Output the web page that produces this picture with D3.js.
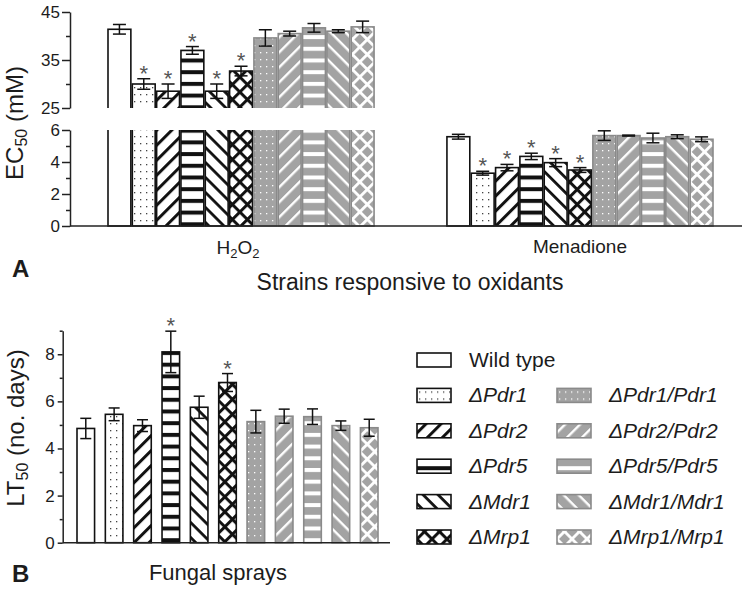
<!DOCTYPE html>
<html lang="en">
<head>
<meta charset="UTF-8">
<script src="https://d3js.org/d3.v7.min.js"></script>
<title>EC50 and LT50 of transporter mutants</title>
<style>
    body { margin: 0; background: #fff; }
    text { font-family: "Liberation Sans", Arial, sans-serif; fill: #1c1c1c; }
    .axis path, .axis line { stroke: #222; stroke-width: 1.5; }
</style>
</head>
<body>
<div id="container"></div>
<script>
// ---- data ----
const strains = ['Wild type', '\u0394Pdr1', '\u0394Pdr2', '\u0394Pdr5', '\u0394Mdr1', '\u0394Mrp1',
    '\u0394Pdr1/Pdr1', '\u0394Pdr2/Pdr2', '\u0394Pdr5/Pdr5', '\u0394Mdr1/Mdr1', '\u0394Mrp1/Mrp1'];
const oxidants = ['H2O2', 'Menadione'];

const ec50H2O2 = [41.4, 30.0, 28.5, 37.0, 28.5, 32.7, 39.6, 40.5, 41.7, 41.0, 41.9];
const ec50H2O2Err = [1.0, 1.1, 1.5, 0.8, 1.5, 1.0, 1.7, 0.5, 0.9, 0.3, 1.2];
const ec50Menadione = [5.58, 3.30, 3.65, 4.35, 3.96, 3.50, 5.65, 5.65, 5.50, 5.58, 5.42];
const ec50MenadioneErr = [0.15, 0.12, 0.20, 0.20, 0.25, 0.15, 0.30, 0.03, 0.30, 0.12, 0.15];
const ec50Signif = [false, true, true, true, true, true, false, false, false, false, false];

const lt50 = [4.85, 5.45, 4.97, 8.10, 5.75, 6.80, 5.14, 5.37, 5.35, 4.97, 4.88];
const lt50Err = [0.43, 0.27, 0.25, 0.88, 0.47, 0.38, 0.48, 0.30, 0.33, 0.20, 0.36];
const lt50Signif = [false, false, false, true, false, true, false, false, false, false, false];

const ecUpperTicks = [25, 35, 45];
const ecUpperMinor = [30, 40];
const ecLowerTicks = [0, 2, 4, 6];
const ecLowerMinor = [1, 3, 5];
const ltTicks = [0, 2, 4, 6, 8];
const ltMinor = [1, 3, 5, 7, 9];

const width = 747;
const height = 592;
const gray = '#a3a3a3';
const grayLine = '#8a8a8a';

const svg = d3.select('#container')
    .append('svg')
    .attr('width', width)
    .attr('height', height);

svg.append('rect').attr('width', width).attr('height', height).attr('fill', '#fff');

// ---- patterns ----
const defs = svg.append('defs');

function stripes(id, bg, fg, size, thick, angle) {
    const p = defs.append('pattern').attr('id', id)
        .attr('patternUnits', 'userSpaceOnUse')
        .attr('width', size).attr('height', size)
        .attr('patternTransform', `rotate(${angle})`);
    p.append('rect').attr('width', size).attr('height', size).attr('fill', bg);
    p.append('rect').attr('width', size).attr('height', thick).attr('fill', fg);
}

function hatch(id, bg, fg, size, thick) {
    const p = defs.append('pattern').attr('id', id)
        .attr('patternUnits', 'userSpaceOnUse')
        .attr('width', size).attr('height', size)
        .attr('patternTransform', 'rotate(45)');
    p.append('rect').attr('width', size).attr('height', size).attr('fill', bg);
    p.append('rect').attr('width', size).attr('height', thick).attr('fill', fg);
    p.append('rect').attr('width', thick).attr('height', size).attr('fill', fg);
}

function dots(id, bg, fg) {
    const p = defs.append('pattern').attr('id', id)
        .attr('patternUnits', 'userSpaceOnUse')
        .attr('width', 6).attr('height', 7);
    p.append('rect').attr('width', 6).attr('height', 7).attr('fill', bg);
    p.append('rect').attr('x', 2).attr('y', 3).attr('width', 1.3).attr('height', 1.3).attr('fill', fg);
}

dots('dotK', '#fff', '#444');
stripes('fwdK', '#fff', '#111', 10.6, 3, -45);
stripes('horK', '#fff', '#111', 11.7, 4, 0);
stripes('bckK', '#fff', '#111', 10.6, 2.8, 45);
hatch('crsK', '#fff', '#111', 10.6, 3);
dots('dotG', gray, '#fff');
stripes('fwdG', gray, '#fff', 10.6, 2.4, -45);
stripes('horG', gray, '#fff', 11.7, 4, 0);
stripes('bckG', gray, '#fff', 10.6, 2.4, 45);
hatch('crsG', gray, '#fff', 10.6, 2.8);

const barFill = ['#fff', 'url(#dotK)', 'url(#fwdK)', 'url(#horK)', 'url(#bckK)', 'url(#crsK)',
    'url(#dotG)', 'url(#fwdG)', 'url(#horG)', 'url(#bckG)', 'url(#crsG)'];
const barStroke = strains.map((s, i) => i < 6 ? '#111' : grayLine);

function errorBars(g, rows, x, bw, y, cap) {
    const eb = g.append('g').attr('stroke', '#111').attr('stroke-width', 1.5);
    eb.selectAll('line.v').data(rows).join('line')
        .attr('x1', d => x(d) + bw / 2).attr('x2', d => x(d) + bw / 2)
        .attr('y1', d => y(d)(d.v - d.e)).attr('y2', d => y(d)(d.v + d.e));
    eb.selectAll('line.t').data(rows).join('line')
        .attr('x1', d => x(d) + bw / 2 - cap / 2).attr('x2', d => x(d) + bw / 2 + cap / 2)
        .attr('y1', d => y(d)(d.v + d.e)).attr('y2', d => y(d)(d.v + d.e));
    eb.selectAll('line.b').data(rows).join('line')
        .attr('x1', d => x(d) + bw / 2 - cap / 2).attr('x2', d => x(d) + bw / 2 + cap / 2)
        .attr('y1', d => y(d)(d.v - d.e)).attr('y2', d => y(d)(d.v - d.e));
    g.append('g').selectAll('text').data(rows.filter(d => d.sig)).join('text')
        .attr('x', d => x(d) + bw / 2)
        .attr('y', d => y(d)(d.v + d.e) + 2)
        .attr('text-anchor', 'middle')
        .style('font-size', '22px')
        .style('fill', '#555')
        .text('*');
}

function styleAxis(g) {
    g.selectAll('text')
        .style('font-size', '17px')
        .style('font-family', '"Liberation Sans", Arial, sans-serif')
        .style('fill', '#1c1c1c');
}

// ---- panel A ----
const yUp = d3.scaleLinear().domain([25, 45]).range([108, 12]);
const yLow = d3.scaleLinear().domain([0, 6]).range([226, 130]);
const groupX = d3.scaleBand().domain(oxidants).range([108, 713]).paddingInner(0.215);
const strainX = d3.scaleBand().domain(strains).range([0, groupX.bandwidth()]).paddingInner(0.06);

const rowsA = oxidants.flatMap((g, gi) => strains.map((s, i) => ({
    g, s, i,
    v: gi === 0 ? ec50H2O2[i] : ec50Menadione[i],
    e: gi === 0 ? ec50H2O2Err[i] : ec50MenadioneErr[i],
    sig: ec50Signif[i]
})));
const yA = d => d.v > 6 ? yUp : yLow;
const xA = d => groupX(d.g) + strainX(d.s);

const clip = defs.append('clipPath').attr('id', 'brk');
clip.append('rect').attr('x', 0).attr('y', 0).attr('width', width).attr('height', 108);
clip.append('rect').attr('x', 0).attr('y', 130).attr('width', width).attr('height', 97);

const panelA = svg.append('g');
panelA.append('g').attr('clip-path', 'url(#brk)')
    .selectAll('rect').data(rowsA).join('rect')
    .attr('x', xA)
    .attr('y', d => yA(d)(d.v))
    .attr('width', strainX.bandwidth())
    .attr('height', d => 226 - yA(d)(d.v))
    .attr('fill', d => barFill[d.i])
    .attr('stroke', d => barStroke[d.i])
    .attr('stroke-width', 1.6);

errorBars(panelA, rowsA, xA, strainX.bandwidth(), yA, 13);

panelA.append('g').attr('class', 'axis').attr('transform', 'translate(70,0)')
    .call(d3.axisLeft(yUp).tickValues(ecUpperTicks).tickSize(8).tickSizeOuter(0).tickPadding(2).tickFormat(d3.format('d')))
    .call(styleAxis);
panelA.append('g').attr('class', 'axis').attr('transform', 'translate(70,0)')
    .call(d3.axisLeft(yUp).tickValues(ecUpperMinor).tickSize(4).tickFormat(''))
    .select('.domain').remove();
panelA.append('g').attr('class', 'axis').attr('transform', 'translate(70,0)')
    .call(d3.axisLeft(yLow).tickValues(ecLowerTicks).tickSize(8).tickSizeOuter(0).tickPadding(2).tickFormat(d3.format('d')))
    .call(styleAxis);
panelA.append('g').attr('class', 'axis').attr('transform', 'translate(70,0)')
    .call(d3.axisLeft(yLow).tickValues(ecLowerMinor).tickSize(4).tickFormat(''))
    .select('.domain').remove();
panelA.append('line').attr('x1', 70).attr('x2', 742).attr('y1', 226).attr('y2', 226)
    .attr('stroke', '#222').attr('stroke-width', 1.5);

// group labels
const h2o2 = panelA.append('text').attr('x', groupX('H2O2') + groupX.bandwidth() / 2 - 3).attr('y', 254)
    .attr('text-anchor', 'middle').style('font-size', '19px');
h2o2.append('tspan').text('H');
h2o2.append('tspan').attr('dy', 4).style('font-size', '13px').text('2');
h2o2.append('tspan').attr('dy', -4).text('O');
h2o2.append('tspan').attr('dy', 4).style('font-size', '13px').text('2');
panelA.append('text').attr('x', groupX('Menadione') + groupX.bandwidth() / 2).attr('y', 253)
    .attr('text-anchor', 'middle').style('font-size', '19px').text('Menadione');
panelA.append('text').attr('x', 410).attr('y', 290).attr('text-anchor', 'middle')
    .style('font-size', '23px').text('Strains responsive to oxidants');
panelA.append('text').attr('x', 12).attr('y', 277).style('font-size', '24px')
    .style('font-weight', 'bold').text('A');

const ecTitle = panelA.append('text').attr('transform', 'translate(23,123) rotate(-90)')
    .attr('text-anchor', 'middle').style('font-size', '24px');
ecTitle.append('tspan').text('EC');
ecTitle.append('tspan').attr('dy', 4).style('font-size', '16px').text('50');
ecTitle.append('tspan').attr('dy', -4).text(' (mM)');

// ---- panel B ----
const yB = d3.scaleLinear().domain([0, 9]).range([542.7, 330.7]);
const xB = d3.scaleBand().domain(strains).range([77, 378]).paddingInner(0.38);
const rowsB = strains.map((s, i) => ({ s, i, v: lt50[i], e: lt50Err[i], sig: lt50Signif[i] }));

const panelB = svg.append('g');
panelB.append('g').selectAll('rect').data(rowsB).join('rect')
    .attr('x', d => xB(d.s))
    .attr('y', d => yB(d.v))
    .attr('width', xB.bandwidth())
    .attr('height', d => yB(0) - yB(d.v))
    .attr('fill', d => barFill[d.i])
    .attr('stroke', d => barStroke[d.i])
    .attr('stroke-width', 1.6);

errorBars(panelB, rowsB, d => xB(d.s), xB.bandwidth(), () => yB, 11);

panelB.append('g').attr('class', 'axis').attr('transform', 'translate(62.7,0)')
    .call(d3.axisLeft(yB).tickValues(ltTicks).tickSize(5).tickSizeOuter(0).tickPadding(3).tickFormat(d3.format('d')))
    .call(styleAxis);
panelB.append('g').attr('class', 'axis').attr('transform', 'translate(62.7,0)')
    .call(d3.axisLeft(yB).tickValues(ltMinor).tickSize(3).tickFormat(''))
    .select('.domain').remove();
panelB.append('line').attr('x1', 62.7).attr('x2', 390).attr('y1', yB(0)).attr('y2', yB(0))
    .attr('stroke', '#222').attr('stroke-width', 1.5);

panelB.append('text').attr('x', 218).attr('y', 580).attr('text-anchor', 'middle')
    .style('font-size', '22px').text('Fungal sprays');
panelB.append('text').attr('x', 12).attr('y', 582).style('font-size', '24px')
    .style('font-weight', 'bold').text('B');

const ltTitle = panelB.append('text').attr('transform', 'translate(24,428) rotate(-90)')
    .attr('text-anchor', 'middle').style('font-size', '24px');
ltTitle.append('tspan').text('LT');
ltTitle.append('tspan').attr('dy', 4).style('font-size', '16px').text('50');
ltTitle.append('tspan').attr('dy', -4).text(' (no. days)');

// ---- legend ----
const legendRow = d3.scaleLinear().domain([0, 5]).range([360, 537]);
const legendItems = strains.map((s, i) => ({
    s, i,
    col: i < 6 ? 0 : 1,
    row: i < 6 ? i : i - 5
}));
const legend = svg.append('g');
const lg = legend.selectAll('g').data(legendItems).join('g')
    .attr('transform', d => `translate(${d.col === 0 ? 417 : 557},${legendRow(d.row)})`);
lg.append('rect').attr('x', 0).attr('y', -7).attr('width', 34).attr('height', 14)
    .attr('fill', d => barFill[d.i])
    .attr('stroke', d => barStroke[d.i])
    .attr('stroke-width', 1.6);
lg.append('text').attr('x', 52).attr('y', 7)
    .style('font-size', '21px')
    .style('font-style', d => d.i === 0 ? 'normal' : 'italic')
    .text(d => d.s);
</script>
</body>
</html>
